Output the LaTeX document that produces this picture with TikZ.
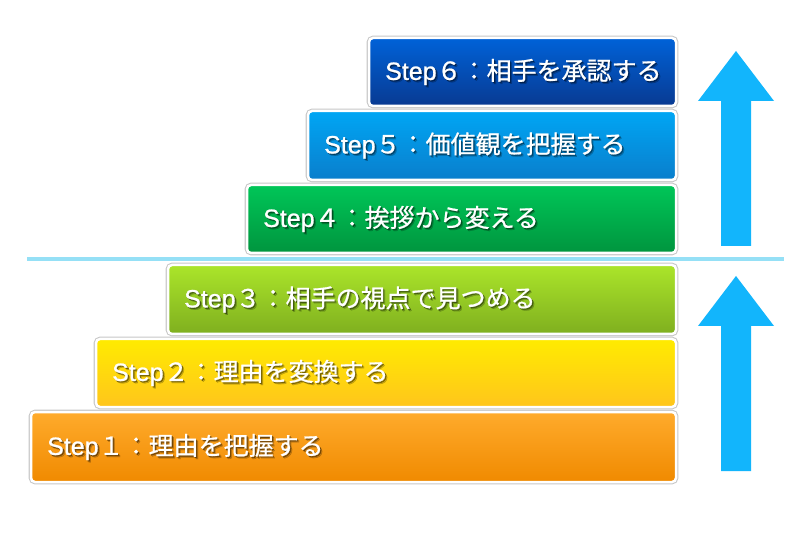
\documentclass[tikz,border=0pt]{standalone}
\usepackage{fontspec}
\newfontfamily\jp{Noto Sans CJK JP}[FakeBold=0.7]
\newfontfamily\lat{Liberation Sans}[FakeBold=0.9]
\newcommand{\stp}{{\lat Step}}
\definecolor{cAtop}{HTML}{0062D8}\definecolor{cAbot}{HTML}{083A92}
\definecolor{cBtop}{HTML}{00A6F4}\definecolor{cBbot}{HTML}{0A7ECC}
\definecolor{cCtop}{HTML}{00C658}\definecolor{cCbot}{HTML}{00953E}
\definecolor{cDtop}{HTML}{ABE52A}\definecolor{cDbot}{HTML}{7FAF1F}
\definecolor{cEtop}{HTML}{FFEB00}\definecolor{cEbot}{HTML}{FFC51C}
\definecolor{cFtop}{HTML}{FFAB2C}\definecolor{cFbot}{HTML}{F08A00}
\definecolor{arrowblue}{HTML}{12B5FC}
\definecolor{sepblue}{HTML}{95E0F6}
\tikzset{
  stepbox/.style={rectangle, rounded corners=4pt, draw=white, line width=2.5pt,
    preaction={draw=black!22, line width=4.6pt}, inner sep=0pt, outer sep=0pt, anchor=north west},
  steptext/.style={font=\jp\fontsize{25}{29}\selectfont, text=white, inner sep=0pt, anchor=west},
  stepshade/.style={font=\jp\fontsize{25}{29}\selectfont, text=black, opacity=0.35, inner sep=0pt, anchor=west},
  bigarrow/.style={fill=arrowblue},
  sepline/.style={draw=sepblue, line width=4pt}
}
\begin{document}
\begin{tikzpicture}[x=1pt,y=-1pt]
\useasboundingbox[fill=white] (0,0) rectangle (800,534);
% separator
\coordinate (sepL) at (27,259);
\coordinate (sepR) at (784,259);
\draw[sepline] (sepL) -- (sepR);
% arrows
\fill[bigarrow] (736,51) -- (774,101) -- (751,101) -- (751,246) -- (721,246) -- (721,101) -- (698,101) -- cycle;
\fill[bigarrow] (736,276) -- (774,326) -- (751,326) -- (751,471) -- (721,471) -- (721,326) -- (698,326) -- cycle;
% boxes
\node[stepbox, top color=cAtop, bottom color=cAbot, minimum width=307pt, minimum height=68pt] (s6) at (369,38) {};
\node[stepbox, top color=cBtop, bottom color=cBbot, minimum width=368pt, minimum height=69pt] (s5) at (308,111) {};
\node[stepbox, top color=cCtop, bottom color=cCbot, minimum width=429pt, minimum height=68pt] (s4) at (247,185) {};
\node[stepbox, top color=cDtop, bottom color=cDbot, minimum width=508pt, minimum height=69pt] (s3) at (168,265) {};
\node[stepbox, top color=cEtop, bottom color=cEbot, minimum width=580pt, minimum height=68pt] (s2) at (96,339) {};
\node[stepbox, top color=cFtop, bottom color=cFbot, minimum width=645pt, minimum height=70pt] (s1) at (31,412) {};
% texts (soft shadow copies first, then white text)
\foreach \sh/\op in {1.2/0.35, 2.2/0.2}{
\node[stepshade, opacity=\op] at ([xshift=16pt+\sh pt,yshift=-\sh pt]s6.west) {\stp６：相手を承認する};
\node[stepshade, opacity=\op] at ([xshift=16pt+\sh pt,yshift=-\sh pt]s5.west) {\stp５：価値観を把握する};
\node[stepshade, opacity=\op] at ([xshift=16pt+\sh pt,yshift=-\sh pt]s4.west) {\stp４：挨拶から変える};
\node[stepshade, opacity=\op] at ([xshift=16pt+\sh pt,yshift=-\sh pt]s3.west) {\stp３：相手の視点で見つめる};
\node[stepshade, opacity=\op] at ([xshift=16pt+\sh pt,yshift=-\sh pt]s2.west) {\stp２：理由を変換する};
\node[stepshade, opacity=\op] at ([xshift=16pt+\sh pt,yshift=-\sh pt]s1.west) {\stp１：理由を把握する};
}
\node[steptext] (t6) at ([xshift=16pt]s6.west) {\stp６：相手を承認する};
\node[steptext] (t5) at ([xshift=16pt]s5.west) {\stp５：価値観を把握する};
\node[steptext] (t4) at ([xshift=16pt]s4.west) {\stp４：挨拶から変える};
\node[steptext] (t3) at ([xshift=16pt]s3.west) {\stp３：相手の視点で見つめる};
\node[steptext] (t2) at ([xshift=16pt]s2.west) {\stp２：理由を変換する};
\node[steptext] (t1) at ([xshift=16pt]s1.west) {\stp１：理由を把握する};
\end{tikzpicture}
\end{document}
